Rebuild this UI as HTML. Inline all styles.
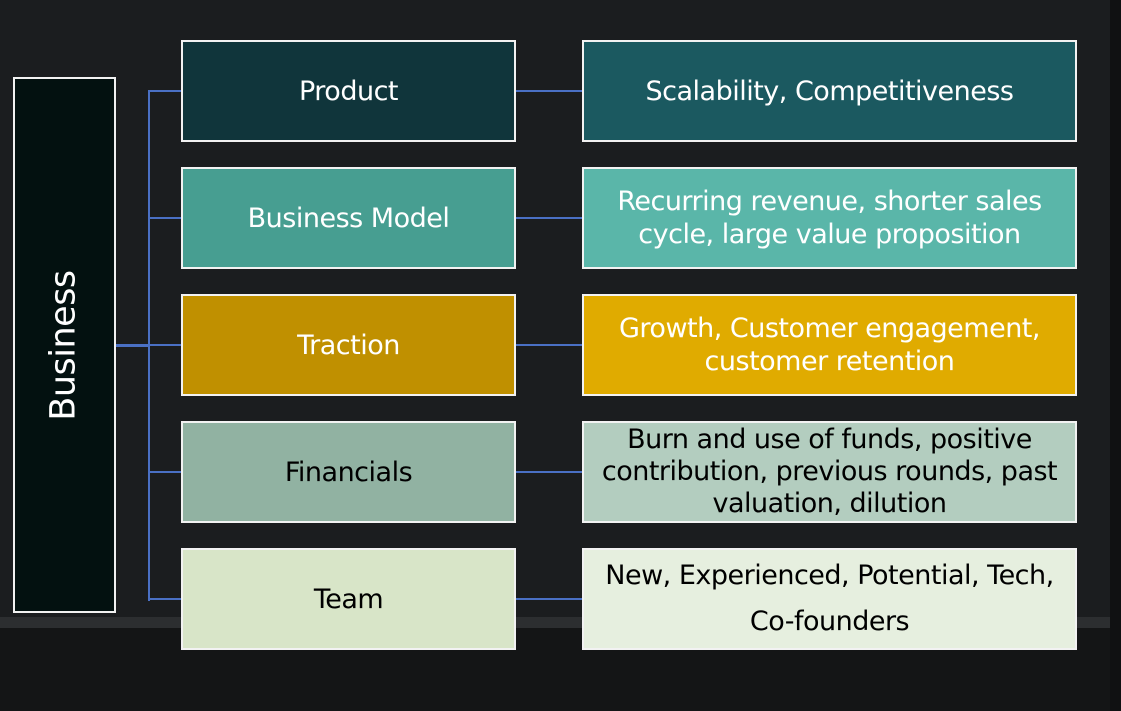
<!DOCTYPE html>
<html><head><meta charset="utf-8"><style>
body{margin:0;width:1121px;height:711px;overflow:hidden;background:#1b1d1f;position:relative;font-family:"DejaVu Sans","Liberation Sans",sans-serif;}
.bg2{position:absolute;left:0;top:628px;width:1121px;height:83px;background:#141516;}
.ledge{position:absolute;left:0;top:617px;width:1121px;height:11px;background:#2c2e30;}
.rt{position:absolute;left:1110px;top:0;width:11px;height:711px;background:#101112;}
.b{position:absolute;box-sizing:border-box;border:2px solid #f2f2f2;display:flex;align-items:center;justify-content:center;text-align:center;font-size:27px;line-height:33px;letter-spacing:-0.5px;}
.l{left:181px;width:335px;height:102px;}
.r{left:582px;width:495px;height:102px;}
.ln{position:absolute;background:#4a70c4;}
</style></head><body>
<div class="bg2"></div><div class="ledge"></div><div class="rt"></div>
<div class="ln" style="left:148px;top:91px;width:2px;height:510px"></div>
<div class="ln" style="left:115px;top:344px;width:33px;height:3px"></div>
<div class="ln" style="left:148px;top:90px;width:434px;height:2px"></div>
<div class="ln" style="left:148px;top:217px;width:434px;height:2px"></div>
<div class="ln" style="left:148px;top:344px;width:434px;height:2px"></div>
<div class="ln" style="left:148px;top:471px;width:434px;height:2px"></div>
<div class="ln" style="left:148px;top:598px;width:434px;height:2px"></div>
<div class="b" style="left:13px;top:77px;width:103px;height:536px;background:#031110;color:#fff;"><span style="transform:rotate(-90deg);white-space:nowrap;font-size:35px">Business</span></div>
<div class="b l" style="top:40px;background:#10353b;color:#fff">Product</div>
<div class="b r" style="top:40px;background:#1b5960;color:#fff">Scalability, Competitiveness</div>
<div class="b l" style="top:167px;background:#479e91;color:#fff">Business Model</div>
<div class="b r" style="top:167px;background:#5ab6a9;color:#fff">Recurring revenue, shorter sales<br>cycle, large value proposition</div>
<div class="b l" style="top:294px;background:#c09000;color:#fff">Traction</div>
<div class="b r" style="top:294px;background:#e0ab00;color:#fff">Growth, Customer engagement,<br>customer retention</div>
<div class="b l" style="top:421px;background:#91b2a2;color:#000">Financials</div>
<div class="b r" style="top:421px;background:#b3cdbf;color:#000;line-height:32px">Burn and use of funds, positive<br>contribution, previous rounds, past<br>valuation, dilution</div>
<div class="b l" style="top:548px;background:#d8e5c8;color:#000">Team</div>
<div class="b r" style="top:548px;background:#e6efdf;color:#000;line-height:46px">New, Experienced, Potential, Tech,<br>Co-founders</div>
</body></html>
